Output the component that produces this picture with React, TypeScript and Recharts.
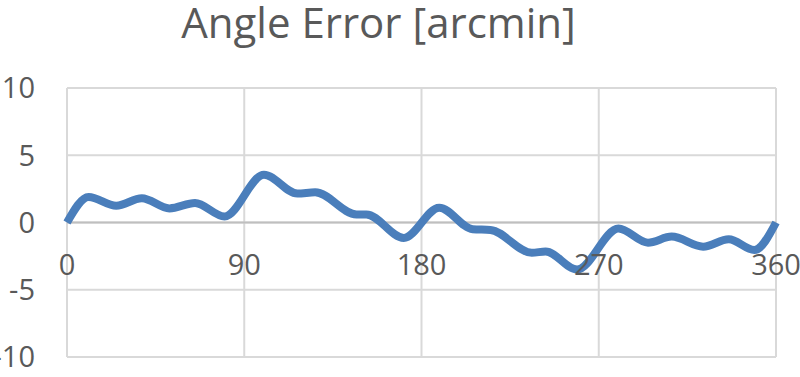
import React from "react";
import {
  LineChart,
  Line,
  XAxis,
  YAxis,
  CartesianGrid,
  ReferenceLine,
  ReferenceDot,
} from "recharts";

// angle in degrees and error in arcmin
const angles = [
  0, 11, 25, 38, 52, 65, 80, 100, 117, 126, 147, 152, 171, 189, 206, 215, 236,
  243, 259, 280, 295, 307, 323, 336, 349, 360,
];
const errors = [
  0, 1.9, 1.25, 1.8, 1.05, 1.45, 0.45, 3.55, 2.15, 2.25, 0.6, 0.6, -1.15, 1.1,
  -0.5, -0.55, -2.25, -2.15, -3.5, -0.45, -1.5, -1.05, -1.8, -1.25, -2.05, 0,
];
const xTicks = [0, 90, 180, 270, 360];
const yTicks = [-10, -5, 0, 5, 10];

const data = angles.map((a, i) => ({ angle: a, error: errors[i] }));

const textColor = "#595959";
const font = "'Open Sans', sans-serif";

function App() {
  return (
    <div style={{ position: "absolute", left: 0, top: 0, width: 800, height: 377 }}>
      <div
        style={{
          position: "absolute",
          left: 0,
          top: 0,
          width: 757,
          textAlign: "center",
          fontFamily: font,
          fontSize: 42,
          lineHeight: "44px",
          color: textColor,
        }}
      >
        Angle Error [arcmin]
      </div>
      <LineChart
        width={800}
        height={377}
        data={data}
        margin={{ top: 88, right: 24, left: 0, bottom: 20 }}
      >
        <CartesianGrid stroke="#d9d9d9" strokeWidth={2} />
        <XAxis
          dataKey="angle"
          type="number"
          domain={[0, 360]}
          ticks={xTicks}
          hide
        />
        <YAxis
          type="number"
          domain={[-10, 10]}
          ticks={yTicks}
          width={67}
          axisLine={false}
          tickLine={false}
          tickSize={0}
          tickMargin={32}
          tick={{ fill: textColor, fontSize: 29, fontFamily: font }}
        />
        <ReferenceLine y={0} stroke="#bfbfbf" strokeWidth={2} />
        <Line
          type="monotone"
          dataKey="error"
          stroke="#4A7EBB"
          strokeWidth={8}
          dot={false}
          isAnimationActive={false}
        />
        {xTicks.map((t) => (
          <ReferenceDot
            key={t}
            x={t}
            y={0}
            r={0}
            fill="none"
            stroke="none"
            label={{
              value: String(t),
              position: "bottom",
              offset: 32,
              fill: textColor,
              fontSize: 29,
              fontFamily: font,
            }}
          />
        ))}
      </LineChart>
    </div>
  );
}

export default App;
